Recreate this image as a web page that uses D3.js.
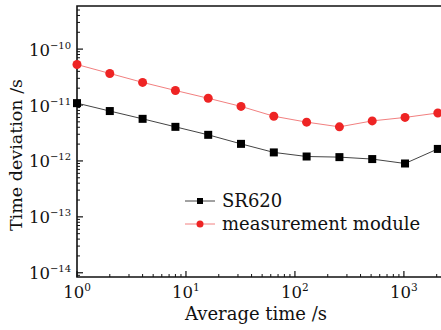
<!DOCTYPE html>
<html>
<head>
<meta charset="utf-8">
<script src="https://cdn.jsdelivr.net/npm/d3@7"></script>
<style>
  body { margin: 0; background: #fff; }
  text { font-family: "DejaVu Serif", serif; fill: #111; }
</style>
</head>
<body>
<svg id="chart" width="441" height="330"></svg>
<script>
// averaging times (s)
const tau = [1, 2, 4, 8, 16, 32, 64, 128, 256, 512, 1024, 2048];
// time deviation (s)
const sr620 = [1.08e-11, 7.8e-12, 5.66e-12, 4.07e-12, 2.93e-12, 2.02e-12, 1.42e-12, 1.2e-12, 1.17e-12, 1.08e-12, 9.0e-13, 1.64e-12];
const module_ = [5.3e-11, 3.67e-11, 2.54e-11, 1.82e-11, 1.32e-11, 9.45e-12, 6.3e-12, 4.94e-12, 4.07e-12, 5.2e-12, 6.0e-12, 7.2e-12];
const xTickExp = [0, 1, 2, 3];
const yTickExp = [-14, -13, -12, -11, -10];

const svg = d3.select('#chart');

// SCALES
const x = d3.scaleLog().domain([1, 2190]).range([77, 441]);
const y = d3.scaleLog().domain([8.4e-15, 5.9e-10]).range([277, 6]);

const pLeft = 77, pRight = 441, pTop = 6, pBottom = 277;

// minor ticks
const xMinor = [];
for (let e = 0; e <= 3; e++) for (let m = 2; m <= 9; m++) if (m * 10 ** e < 2190) xMinor.push(m * 10 ** e);
const yMinor = [];
for (let e = -15; e <= -10; e++) for (let m = 2; m <= 9; m++) {
  const v = m * 10 ** e;
  if (v > 8.4e-15 && v < 5.9e-10) yMinor.push(v);
}

const g = svg.append('g');

// x ticks (inward)
g.selectAll('.xmin').data(xMinor).enter().append('line')
  .attr('x1', d => x(d)).attr('x2', d => x(d))
  .attr('y1', pBottom).attr('y2', pBottom - 3)
  .attr('stroke', '#111').attr('stroke-width', 1);
g.selectAll('.xmaj').data(xTickExp).enter().append('line')
  .attr('x1', d => x(10 ** d)).attr('x2', d => x(10 ** d))
  .attr('y1', pBottom).attr('y2', pBottom - 6)
  .attr('stroke', '#111').attr('stroke-width', 1.2);

// y ticks (inward)
g.selectAll('.ymin').data(yMinor).enter().append('line')
  .attr('y1', d => y(d)).attr('y2', d => y(d))
  .attr('x1', pLeft).attr('x2', pLeft + 3)
  .attr('stroke', '#111').attr('stroke-width', 1);
g.selectAll('.ymaj').data(yTickExp).enter().append('line')
  .attr('y1', d => y(10 ** d)).attr('y2', d => y(10 ** d))
  .attr('x1', pLeft).attr('x2', pLeft + 6)
  .attr('stroke', '#111').attr('stroke-width', 1.2);

// frame
g.append('path')
  .attr('d', `M${pRight},${pTop}H${pLeft}V${pBottom}H${pRight}`)
  .attr('fill', 'none').attr('stroke', '#111').attr('stroke-width', 1.6);

// tick labels
const xl = g.selectAll('.xl').data(xTickExp).enter().append('text')
  .attr('x', d => x(10 ** d)).attr('y', 298)
  .attr('text-anchor', 'middle').attr('font-size', 16.5);
xl.append('tspan').text('10');
xl.append('tspan').attr('dy', -7).attr('font-size', 10.5).text(d => d);

const yl = g.selectAll('.yl').data(yTickExp).enter().append('text')
  .attr('x', 71).attr('y', d => y(10 ** d) + 6.5)
  .attr('text-anchor', 'end').attr('font-size', 16.5);
yl.append('tspan').text('10');
yl.append('tspan').attr('dy', -7).attr('font-size', 10).text(d => '\u2212' + (-d));

// axis titles
svg.append('text').attr('x', 256).attr('y', 320)
  .attr('text-anchor', 'middle').attr('font-size', 18).text('Average time /s');
svg.append('text')
  .attr('transform', 'translate(22,155) rotate(-90)')
  .attr('text-anchor', 'middle').attr('font-size', 17.5).text('Time deviation /s');

// LINES
const line = d3.line().x(d => x(d[0])).y(d => y(d[1]));
const sData = tau.map((t, i) => [t, sr620[i]]);
const mData = tau.map((t, i) => [t, module_[i]]);

svg.append('path').datum(mData).attr('d', line)
  .attr('fill', 'none').attr('stroke', '#f28080').attr('stroke-width', 1);
svg.append('path').datum(sData).attr('d', line)
  .attr('fill', 'none').attr('stroke', '#444').attr('stroke-width', 1);

svg.selectAll('.sq').data(sData).enter().append('rect')
  .attr('x', d => x(d[0]) - 4).attr('y', d => y(d[1]) - 4)
  .attr('width', 8).attr('height', 8).attr('fill', '#000');
svg.selectAll('.ci').data(mData).enter().append('circle')
  .attr('cx', d => x(d[0])).attr('cy', d => y(d[1])).attr('r', 4.5)
  .attr('fill', '#ee2424');

// LEGEND
const lg = svg.append('g');
lg.append('line').attr('x1', 185).attr('x2', 215).attr('y1', 201).attr('y2', 201)
  .attr('stroke', '#444').attr('stroke-width', 1);
lg.append('rect').attr('x', 197).attr('y', 198).attr('width', 6).attr('height', 6).attr('fill', '#000');
lg.append('text').attr('x', 222).attr('y', 207).attr('font-size', 18).text('SR620');
lg.append('line').attr('x1', 185).attr('x2', 215).attr('y1', 224).attr('y2', 224)
  .attr('stroke', '#f28080').attr('stroke-width', 1);
lg.append('circle').attr('cx', 200).attr('cy', 224).attr('r', 3.5).attr('fill', '#ee2424');
lg.append('text').attr('x', 222).attr('y', 230).attr('font-size', 18).text('measurement module');
</script>
</body>
</html>
